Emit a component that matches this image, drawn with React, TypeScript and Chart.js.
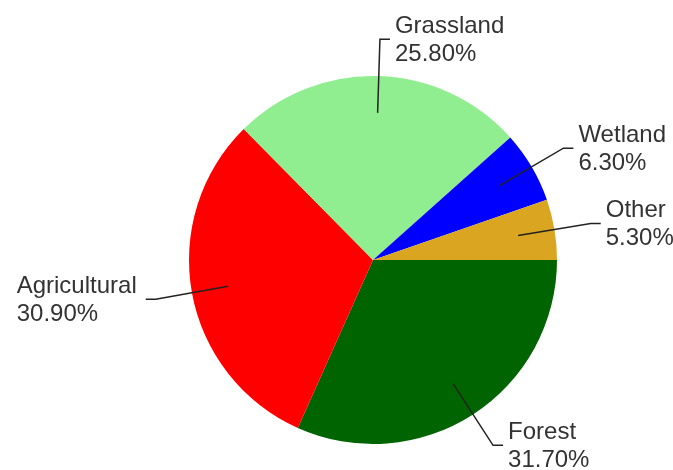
import React, { useEffect, useRef } from "react";
import { Chart, registerables } from "chart.js";

Chart.register(...registerables);

const categories = ["Forest", "Agricultural", "Grassland", "Wetland", "Other"];
const shares = [31.7, 30.9, 25.8, 6.3, 5.3];
const sliceColors = ["#006400", "#FF0000", "#90EE90", "#0000FF", "#DAA520"];

const leaderLabels = {
  id: "leaderLabels",
  afterDatasetsDraw(chart: any) {
    const ctx = chart.ctx;
    const meta = chart.getDatasetMeta(0);
    const data = chart.data.datasets[0].data as number[];
    ctx.save();
    meta.data.forEach((arc: any, i: number) => {
      const { x, y, startAngle, endAngle, outerRadius } = arc.getProps(
        ["x", "y", "startAngle", "endAngle", "outerRadius"],
        true
      );
      const mid = (startAngle + endAngle) / 2;
      const cos = Math.cos(mid);
      const sin = Math.sin(mid);
      const x1 = x + cos * outerRadius * 0.8;
      const y1 = y + sin * outerRadius * 0.8;
      const x2 = x + cos * outerRadius * 1.2;
      const y2 = y + sin * outerRadius * 1.2;
      const side = cos >= 0 ? 1 : -1;
      const x3 = x2 + side * 10;
      ctx.beginPath();
      ctx.strokeStyle = "#222";
      ctx.lineWidth = 1.5;
      ctx.moveTo(x1, y1);
      ctx.lineTo(x2, y2);
      ctx.lineTo(x3, y2);
      ctx.stroke();
      ctx.font = '24px "Liberation Sans", Arial, sans-serif';
      ctx.fillStyle = "#333";
      ctx.textAlign = "left";
      ctx.textBaseline = "middle";
      const line1 = String(chart.data.labels[i]);
      const line2 = data[i].toFixed(2) + "%";
      const w = Math.max(ctx.measureText(line1).width, ctx.measureText(line2).width);
      const tx = side > 0 ? x3 + 5 : x3 - 9 - w;
      ctx.fillText(line1, tx, y2 - 13);
      ctx.fillText(line2, tx, y2 + 15);
    });
    ctx.restore();
  },
};

export default function App() {
  const ref = useRef<HTMLCanvasElement | null>(null);
  useEffect(() => {
    if (!ref.current) return;
    const chart = new Chart(ref.current, {
      type: "pie",
      data: {
        labels: categories,
        datasets: [
          {
            data: shares,
            backgroundColor: sliceColors,
            borderWidth: 0,
            hoverOffset: 0,
          },
        ],
      },
      options: {
        responsive: false,
        animation: false,
        devicePixelRatio: 1,
        rotation: 90,
        layout: { padding: { left: 189, right: 116, top: 76, bottom: 26 } },
        plugins: {
          legend: { display: false },
          tooltip: { enabled: false },
        },
      },
      plugins: [leaderLabels],
    });
    return () => chart.destroy();
  }, []);
  return (
    <div style={{ position: "absolute", left: 0, top: 0, width: 673, height: 470, background: "#fff" }}>
      <canvas ref={ref} width={673} height={470} style={{ display: "block" }} />
    </div>
  );
}
